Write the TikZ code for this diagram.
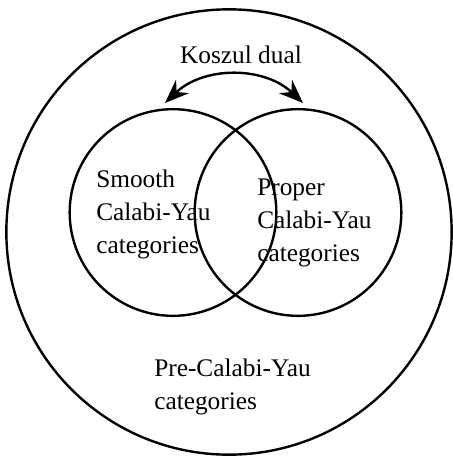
\documentclass[tikz,border=0pt]{standalone}
\usepackage{fontspec}
\setmainfont{Liberation Serif}
\usetikzlibrary{arrows.meta}
\begin{document}
\begin{tikzpicture}[x=0.75pt,y=-0.75pt,
  ring/.style={circle,draw,line width=1.8pt,inner sep=0pt},
  tip/.style={Stealth[length=18pt,width=14pt,inset=6pt]},
  lbl/.style={font=\fontsize{19}{24.75}\selectfont,inner sep=0pt,align=left,anchor=base west}]
\useasboundingbox (0,0) rectangle (453,457);
\node[ring,minimum size=334pt] (all) at (229,232) {};
\node[ring,minimum size=155pt] (smooth) at (173,212.5) {};
\node[ring,minimum size=155pt] (proper) at (298,212.5) {};
\node[lbl,anchor=base] (kd) at (241,63) {Koszul dual};
\node[lbl] (ts) at (96,253) {Smooth\\Calabi-Yau\\categories};
\node[lbl] (tp) at (257,261) {Proper\\Calabi-Yau\\categories};
\node[lbl] (tpre) at (154,409) {Pre-Calabi-Yau\\categories};
\coordinate (aL) at (165,103);
\coordinate (aR) at (303,103);
\draw[line width=1.8pt,{Stealth[length=18pt,width=14pt,inset=6pt]}-{Stealth[length=18pt,width=14pt,inset=6pt]}]
  (aL) .. controls (204,66) and (264,66) .. (aR);
\end{tikzpicture}
\end{document}
